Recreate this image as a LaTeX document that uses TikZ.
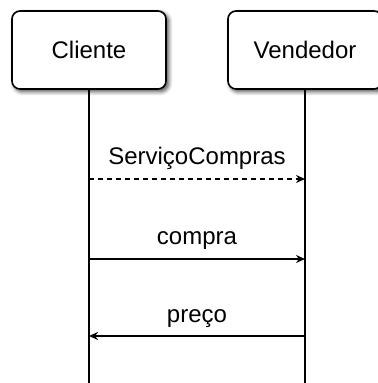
\documentclass[tikz,border=0pt]{standalone}
\usepackage{fontspec}
\setmainfont{Liberation Sans}
\usepackage{tikz}
\usetikzlibrary{positioning}
\usetikzlibrary{arrows.meta}
\usetikzlibrary{shadows.blur}

\begin{document}
\begin{tikzpicture}[x=0.5pt,y=-0.5pt]
        \useasboundingbox (0,0) rectangle (377,383);
        \tikzstyle{actor}=[draw=black,line width=0.8pt,fill=white,
            rounded corners=4pt,minimum width=77pt,minimum height=39pt,
            inner sep=0pt,font=\fontsize{12}{14}\selectfont,
            blur shadow={shadow xshift=1.2pt,shadow yshift=-1.2pt,
            shadow blur steps=6,shadow opacity=75}]
        \tikzstyle{lifeline}=[line width=0.8pt,black]
        \tikzstyle{msg}=[line width=0.8pt,-{Stealth[length=4.5pt,width=4pt]}]
        \tikzstyle{label}=[midway,anchor=base,yshift=7pt,inner sep=0pt,
            font=\fontsize{12}{14}\selectfont]

            \node[actor] (cliente) at (89,50) {Cliente};
            \node[actor] (vendedor) at (305,50) {Vendedor};

            % lifelines down to the bottom edge
            \coordinate (clienteEnd) at (89,383);
            \coordinate (vendedorEnd) at (305,383);
            \draw[lifeline] (cliente) -- (clienteEnd);
            \draw[lifeline] (vendedor) -- (vendedorEnd);

            % message anchors on the lifelines
            \coordinate (c1) at (89,179);
            \coordinate (v1) at (305,179);
            \coordinate (c2) at (89,259);
            \coordinate (v2) at (305,259);
            \coordinate (c3) at (89,336);
            \coordinate (v3) at (305,336);

            \draw[msg, dash pattern=on 2.5pt off 2pt]
            (c1) -- (v1)
            node[label] {ServiçoCompras};

            \draw[msg]
            (c2) -- (v2)
            node[label] {compra};

            \draw[msg]
            (v3) -- (c3)
            node[label] {preço};
        \end{tikzpicture}
\end{document}
